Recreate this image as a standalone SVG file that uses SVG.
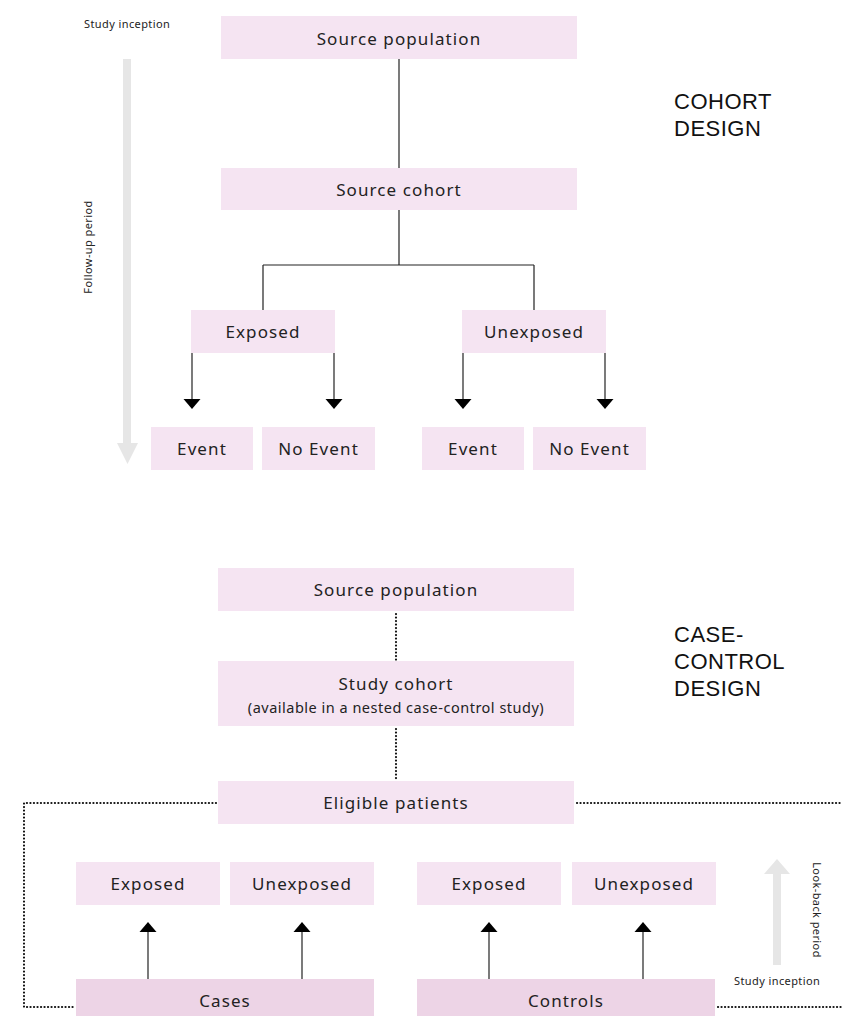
<svg xmlns="http://www.w3.org/2000/svg" width="842" height="1016" viewBox="0 0 842 1016">
<defs>
<style>
.box{fill:#F5E4F2}
.box2{fill:#EDD4E6}
.t{font-family:"Noto Sans","Liberation Sans",sans-serif;font-size:17px;fill:#222;text-anchor:middle;dominant-baseline:central;letter-spacing:1.1px}
.ts{font-family:"Noto Sans","Liberation Sans",sans-serif;font-size:14.5px;fill:#222;text-anchor:middle;dominant-baseline:central;letter-spacing:0.5px}
.sm{font-family:"Noto Sans","Liberation Sans",sans-serif;font-size:11px;fill:#222;letter-spacing:0.4px}
.h{font-family:"Liberation Sans",Arial,sans-serif;font-size:22px;fill:#111;letter-spacing:0.5px}
.ln{stroke:#222;stroke-width:1.2;fill:none}
.dot{stroke:#111;stroke-width:2.2;fill:none;stroke-dasharray:0.1 3.4;stroke-linecap:round}
.gray{fill:#E6E6E6}
</style>
</defs>

<g id="connectors">
<path class="ln" d="M399,59 V168"/>
<path class="ln" d="M399,210 V265 M263,265 H534 M263,265 V310 M534,265 V310"/>
<path class="ln" d="M192,353 V400"/>
<path d="M183.5,399 L200.5,399 L192,409 Z" fill="#000"/>
<path class="ln" d="M334,353 V400"/>
<path d="M325.5,399 L342.5,399 L334,409 Z" fill="#000"/>
<path class="ln" d="M463,353 V400"/>
<path d="M454.5,399 L471.5,399 L463,409 Z" fill="#000"/>
<path class="ln" d="M605,353 V400"/>
<path d="M596.5,399 L613.5,399 L605,409 Z" fill="#000"/>
<path class="dot" d="M396,614 V660"/>
<path class="dot" d="M396,729 V779"/>
<path class="dot" d="M216,803 H24 V1007 H74"/>
<path class="dot" d="M577,803 H842"/>
<path class="dot" d="M718,1007 H842"/>
<path class="ln" d="M148,979 V931"/>
<path d="M139.5,932 L156.5,932 L148,922 Z" fill="#000"/>
<path class="ln" d="M302,979 V931"/>
<path d="M293.5,932 L310.5,932 L302,922 Z" fill="#000"/>
<path class="ln" d="M489,979 V931"/>
<path d="M480.5,932 L497.5,932 L489,922 Z" fill="#000"/>
<path class="ln" d="M643,979 V931"/>
<path d="M634.5,932 L651.5,932 L643,922 Z" fill="#000"/>
</g>

<g id="timeline-cohort">
<rect class="gray" x="123" y="59" width="8" height="386"/>
<path class="gray" d="M117,443 L138,443 L127.5,464 Z"/>
<text class="sm" x="84" y="28">Study inception</text>
<text class="sm" transform="translate(92,247) rotate(-90)" text-anchor="middle">Follow-up period</text>
</g>

<g id="timeline-cc">
<rect class="gray" x="773" y="872" width="8" height="93"/>
<path class="gray" d="M764,874 L790,874 L777,859 Z"/>
<text class="sm" transform="translate(813,910) rotate(90)" text-anchor="middle">Look-back period</text>
<text class="sm" x="734" y="985">Study inception</text>
</g>

<g id="title-cohort">
<text class="h" x="674" y="109">COHORT</text>
<text class="h" x="674" y="136">DESIGN</text>
</g>
<g id="title-cc">
<text class="h" x="674" y="642">CASE-</text>
<text class="h" x="674" y="669">CONTROL</text>
<text class="h" x="674" y="696">DESIGN</text>
</g>

<g id="c-source"><rect class="box" x="221" y="16" width="356" height="43"/><text class="t" x="399" y="38">Source population</text></g>
<g id="c-cohort"><rect class="box" x="221" y="168" width="356" height="42"/><text class="t" x="399" y="189">Source cohort</text></g>
<g id="c-exposed"><rect class="box" x="191" y="310" width="144" height="43"/><text class="t" x="263" y="331">Exposed</text></g>
<g id="c-unexposed"><rect class="box" x="462" y="310" width="144" height="43"/><text class="t" x="534" y="331">Unexposed</text></g>
<g id="c-event1"><rect class="box" x="151" y="427" width="102" height="43"/><text class="t" x="202" y="448">Event</text></g>
<g id="c-noevent1"><rect class="box" x="262" y="427" width="113" height="43"/><text class="t" x="318.5" y="448">No Event</text></g>
<g id="c-event2"><rect class="box" x="422" y="427" width="102" height="43"/><text class="t" x="473" y="448">Event</text></g>
<g id="c-noevent2"><rect class="box" x="533" y="427" width="113" height="43"/><text class="t" x="589.5" y="448">No Event</text></g>

<g id="cc-source"><rect class="box" x="218" y="568" width="356" height="43"/><text class="t" x="396" y="589">Source population</text></g>
<g id="cc-cohort"><rect class="box" x="218" y="661" width="356" height="65"/><text class="t" x="396" y="683">Study cohort</text><text class="ts" x="396" y="707">(available in a nested case-control study)</text></g>
<g id="cc-eligible"><rect class="box" x="218" y="781" width="356" height="43"/><text class="t" x="396" y="802">Eligible patients</text></g>
<g id="cc-exposed1"><rect class="box" x="76" y="862" width="144" height="43"/><text class="t" x="148" y="883">Exposed</text></g>
<g id="cc-unexposed1"><rect class="box" x="230" y="862" width="144" height="43"/><text class="t" x="302" y="883">Unexposed</text></g>
<g id="cc-exposed2"><rect class="box" x="417" y="862" width="144" height="43"/><text class="t" x="489" y="883">Exposed</text></g>
<g id="cc-unexposed2"><rect class="box" x="572" y="862" width="144" height="43"/><text class="t" x="644" y="883">Unexposed</text></g>
<g id="cc-cases"><rect class="box2" x="76" y="979" width="298" height="37"/><text class="t" x="225" y="1000">Cases</text></g>
<g id="cc-controls"><rect class="box2" x="417" y="979" width="298" height="37"/><text class="t" x="566" y="1000">Controls</text></g>
</svg>
